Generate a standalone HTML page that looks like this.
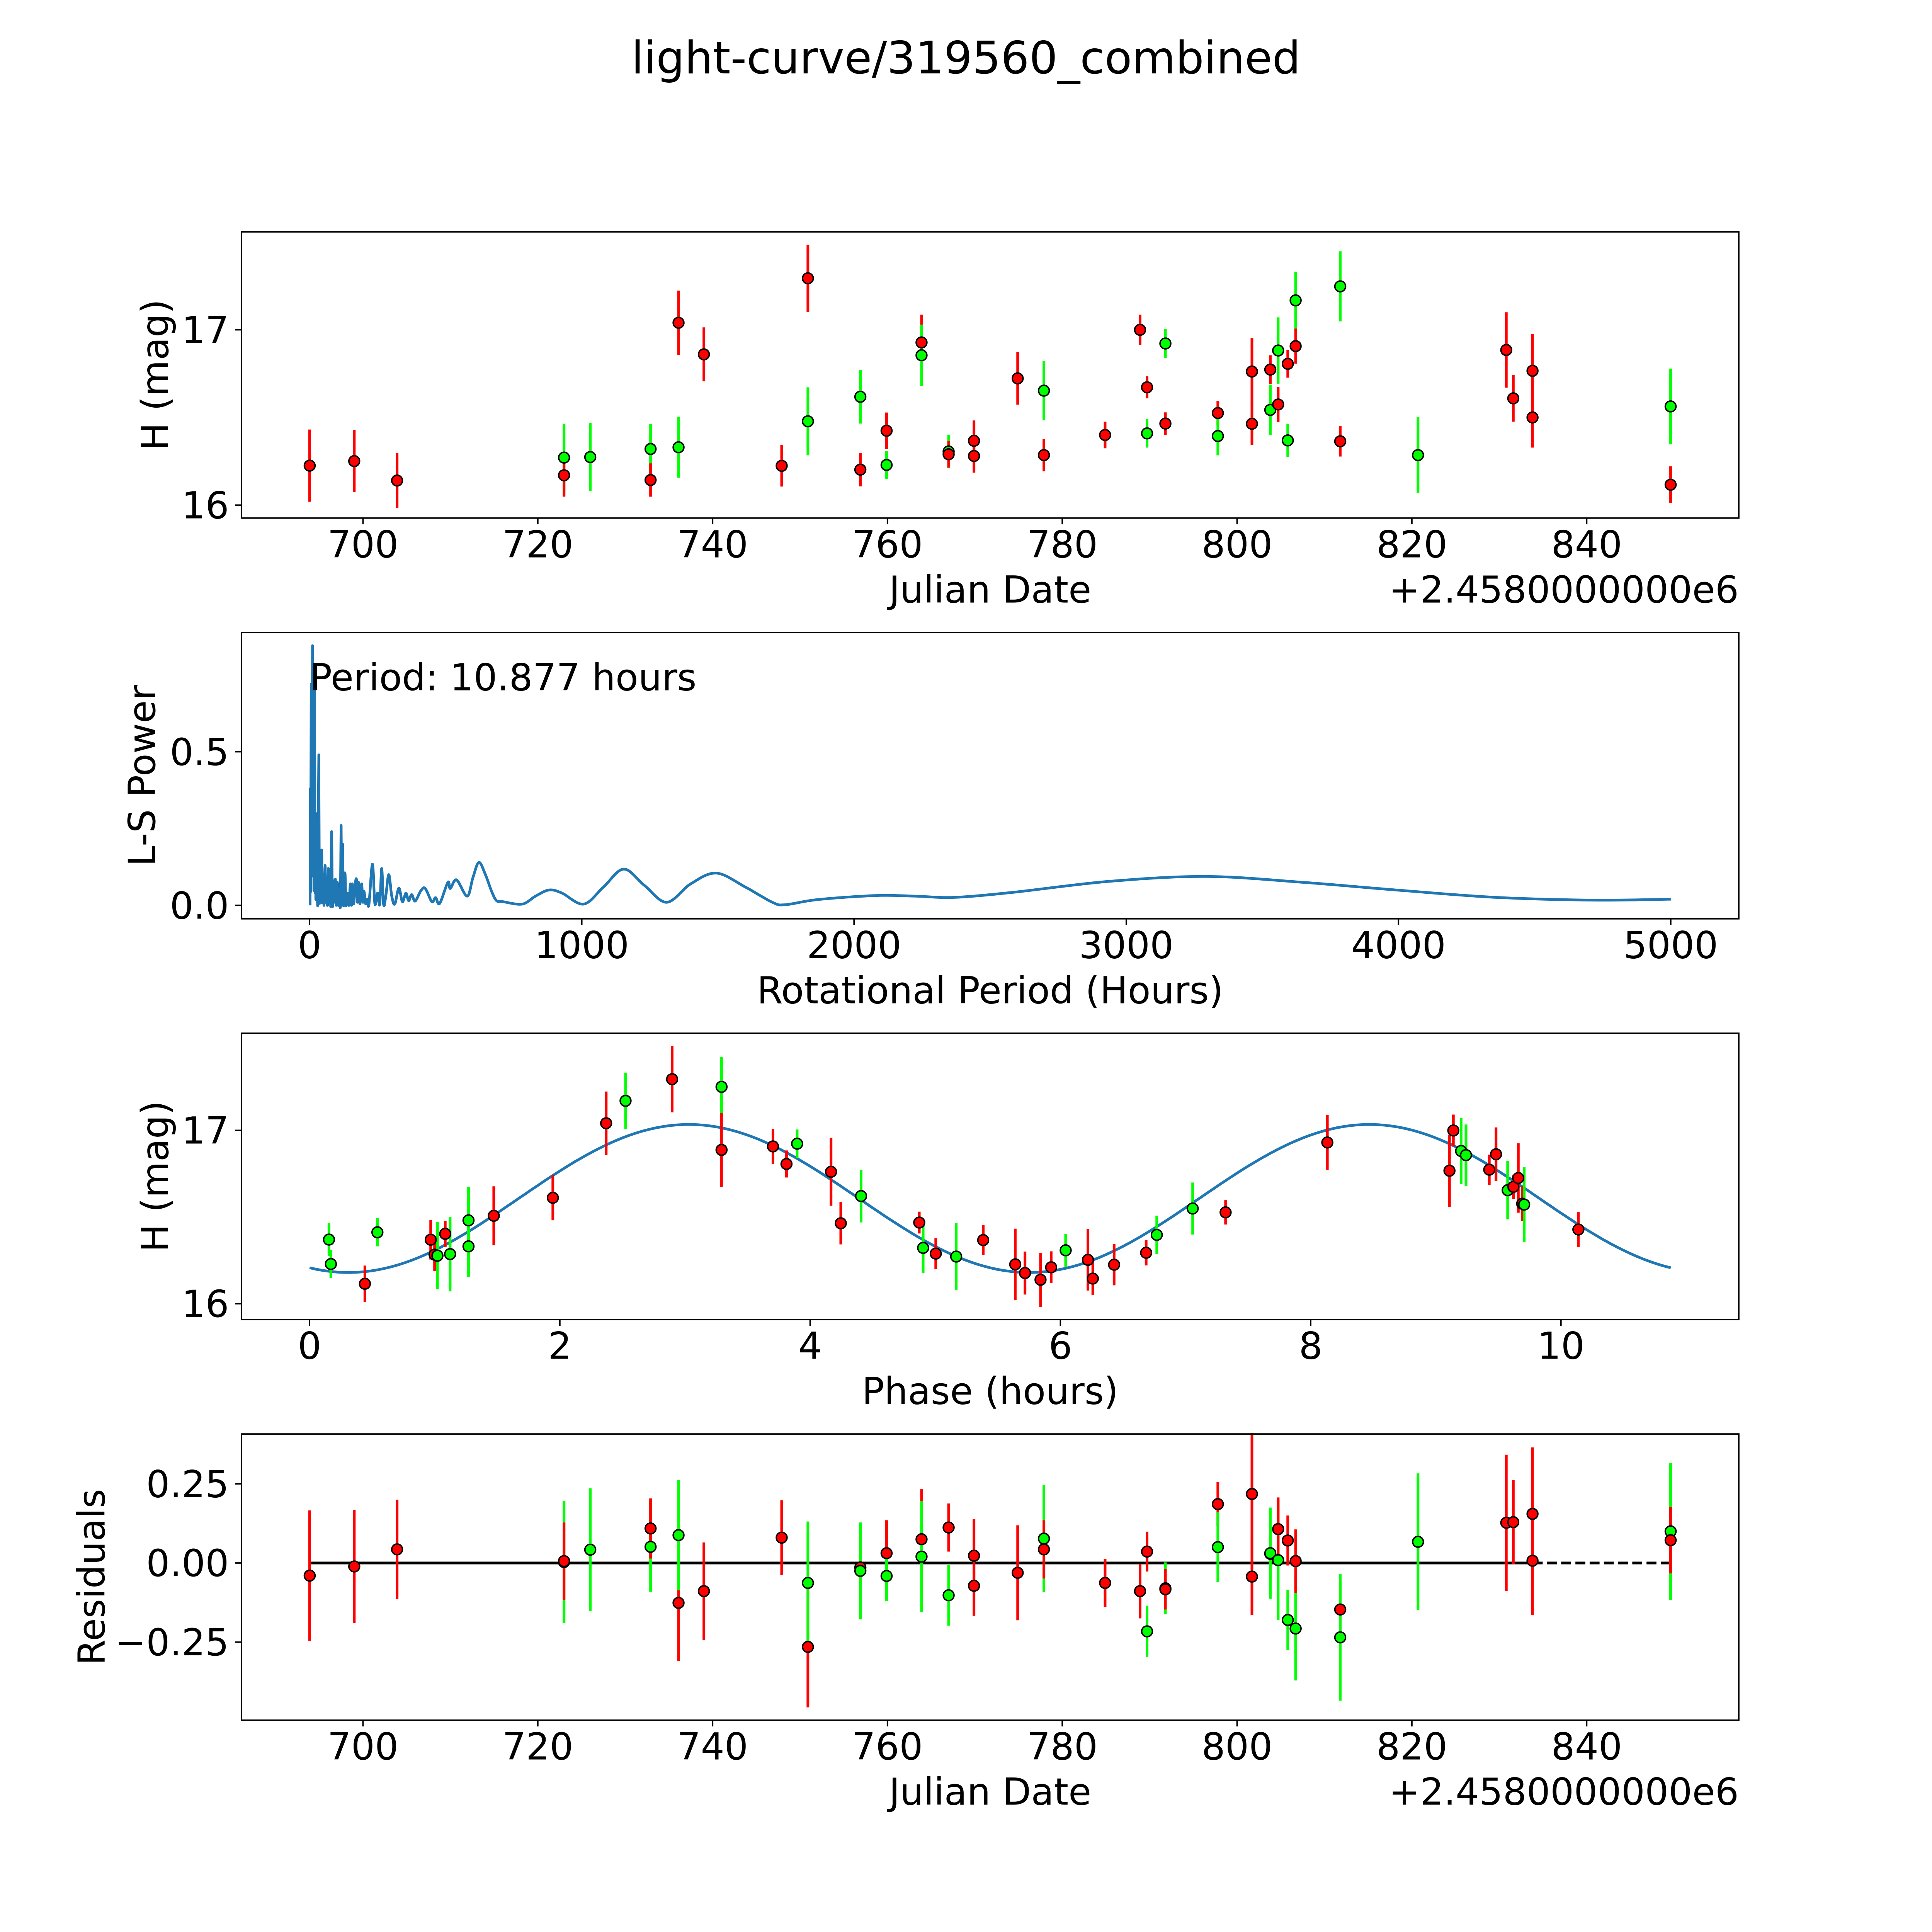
<!DOCTYPE html>
<html><head><meta charset="utf-8"><title>light-curve/319560_combined</title>
<style>html,body{margin:0;padding:0;background:#fff;overflow:hidden;width:100%;height:100%;}svg{display:block;width:100vw;height:100vh;}text{font-family:"DejaVu Sans","Liberation Sans",sans-serif;fill:#000;}</style>
</head><body>
<svg id="chart" xmlns="http://www.w3.org/2000/svg" viewBox="0 0 5400 5400" preserveAspectRatio="none">
<rect x="0" y="0" width="5400" height="5400" fill="#fff"/>
<text x="2700" y="205" font-size="125" text-anchor="middle">light-curve/319560_combined</text>
</svg>
<script>
// ---- Panel 1 / 4 data (observations) ----
const obsDates = [693.9,699.0,703.9,723.0,723.0,726.0,732.9,732.9,736.1,736.1,739.0,747.9,750.9,750.9,756.9,756.9,759.9,759.9,763.9,763.9,767.0,767.0,769.9,769.9,774.9,777.9,777.9,784.9,788.9,789.7,789.7,791.8,791.8,797.8,797.8,801.7,801.7,803.8,803.8,804.7,804.7,805.8,805.8,806.7,806.7,811.8,811.8,820.7,830.8,831.6,833.8,833.8,849.6,849.6];
const obsMags = [16.225,16.251,16.140,16.271,16.170,16.274,16.320,16.143,17.040,16.330,16.860,16.224,17.294,16.478,16.202,16.618,16.424,16.229,16.928,16.855,16.306,16.290,16.367,16.280,16.723,16.653,16.285,16.400,17.000,16.672,16.409,16.922,16.465,16.525,16.394,16.762,16.464,16.773,16.543,16.882,16.574,16.806,16.369,17.168,16.907,16.364,17.248,16.285,16.885,16.609,16.766,16.500,16.563,16.116];
const obsErrs = [0.206,0.178,0.157,0.193,0.122,0.194,0.142,0.095,0.184,0.174,0.154,0.118,0.191,0.194,0.095,0.153,0.104,0.080,0.158,0.175,0.096,0.076,0.116,0.095,0.150,0.169,0.092,0.076,0.086,0.063,0.081,0.082,0.064,0.069,0.110,0.192,0.122,0.082,0.144,0.189,0.100,0.079,0.095,0.164,0.100,0.087,0.200,0.216,0.215,0.133,0.210,0.172,0.216,0.105];
const obsBands = ["r","r","r","g","r","g","g","r","r","g","r","r","r","g","r","g","r","g","r","g","g","r","r","r","r","g","r","r","r","r","g","g","r","r","g","r","r","r","g","g","r","r","g","g","r","r","g","g","r","r","r","r","g","r"];
const residuals = [-0.040,-0.011,0.043,0.003,0.006,0.042,0.051,0.109,-0.126,0.088,-0.089,0.080,-0.265,-0.063,-0.014,-0.025,0.031,-0.041,0.075,0.020,-0.102,0.112,0.023,-0.072,-0.031,0.077,0.043,-0.063,-0.089,0.036,-0.216,-0.080,-0.083,0.186,0.050,0.218,-0.043,0.029,0.031,0.009,0.107,0.071,-0.180,-0.207,0.006,-0.147,-0.235,0.067,0.127,0.129,0.155,0.007,0.100,0.072];
// ---- Panel 3 data (phased) ----
const phases = [0.155,0.170,0.442,0.542,0.968,0.999,1.022,1.084,1.123,1.270,1.270,1.472,1.944,2.370,2.525,2.897,3.292,3.292,3.703,3.896,3.811,4.167,4.245,4.407,4.872,4.903,5.004,5.167,5.383,5.639,5.717,5.841,5.926,6.042,6.220,6.259,6.429,6.685,6.770,7.057,7.320,8.133,9.109,9.140,9.202,9.241,9.427,9.481,9.574,9.620,9.659,9.690,9.706,10.139];
const phaseMags = [16.370,16.229,16.115,16.412,16.369,16.283,16.277,16.403,16.286,16.331,16.481,16.507,16.611,17.041,17.170,17.295,17.251,16.887,16.907,16.923,16.806,16.761,16.464,16.621,16.468,16.322,16.289,16.272,16.367,16.227,16.177,16.138,16.210,16.308,16.253,16.145,16.225,16.294,16.397,16.549,16.527,16.930,16.767,16.999,16.881,16.857,16.773,16.862,16.655,16.674,16.725,16.577,16.572,16.428];
const phaseErrs = [0.095,0.082,0.105,0.081,0.114,0.095,0.193,0.075,0.215,0.177,0.194,0.170,0.130,0.183,0.163,0.191,0.173,0.213,0.100,0.082,0.078,0.196,0.122,0.152,0.063,0.145,0.089,0.193,0.086,0.206,0.124,0.156,0.092,0.095,0.177,0.096,0.119,0.073,0.111,0.150,0.070,0.158,0.208,0.092,0.191,0.177,0.087,0.155,0.168,0.070,0.200,0.100,0.216,0.100];
const phaseBands = ["g","g","r","g","r","r","g","r","g","g","g","r","r","r","g","r","g","r","r","g","r","r","r","g","r","g","r","g","r","r","r","r","r","g","r","r","r","r","g","g","r","r","r","r","g","g","r","r","g","r","r","r","g","r"];
// fit: mean, amplitude, peak phase, period (hours), harmonic
const fitParams = [16.607, 0.427, 3.03, 10.877, 2];
// ---- Panel 2 data (periodogram) ----
const lsPeriods = [2,3,4,6,7,8,9,10.9,12,14,16,18.8,20,22,23,24.6,26,28,30,34,36,40,42,44.5,47,50,53,57,60,63,66,69,72,76,78,81,84,88,90,95,98,102,106,110,113,116,118,121,125,130,134,140,145,150,154,157,162,167,172,176,180,185,191,196,200,206,212,218,231,240,250,258,265,272,280,291,302,313,328,341,354,364,375,388,409,425,449,463,478,508,517,540,579,600,622,646,669,687,710,781,830,880,927,1007,1080,1154,1230,1312,1400,1494,1600,1700,1747,1868,2082,2224,2367,2580,2936,3292,3648,4004,4359,4715,5000];
const lsPowers = [0,0.38,0.05,0.72,0.1,0.45,0.2,0.845,0.1,0.5,0.05,0.70,0.05,0.3,0.02,0.21,0.02,0.14,0.01,0.49,0.02,0.12,0.01,0.18,0.01,0.1,0.0,0.13,0.01,0.09,0.0,0.12,0.01,0.08,0.0,0.24,0.0,0.08,0.01,0.085,0.0,0.075,0.0,0.05,0.0,0.26,0.0,0.2,0.0,0.106,0.0,0.04,0.0,0.07,0.0,0.07,0.005,0.06,0.085,0.01,0.075,0.005,0.07,0.01,0.045,0.005,0.02,0.002,0.134,0.005,0.04,0.003,0.12,0.003,0.03,0.1,0.03,0.004,0.056,0.012,0.04,0.015,0.035,0.014,0.048,0.055,0.012,0.025,0.006,0.075,0.055,0.083,0.03,0.09,0.14,0.1,0.045,0.015,0.012,0.004,0.03,0.05,0.04,0.004,0.06,0.118,0.065,0.01,0.07,0.105,0.06,0.01,0.002,0.019,0.032,0.03,0.026,0.042,0.078,0.094,0.075,0.049,0.026,0.017,0.02];
const periodText = "Period: 10.877 hours";
const jdTicks = [700,720,740,760,780,800,820,840];
const magTicks = [16,17];
const powTicks = [0.0,0.5];
const powTickLabels = ["0.0","0.5"];
const perTicks = [0,1000,2000,3000,4000,5000];
const phaseTicks = [0,2,4,6,8,10];
const resTicks = [-0.25,0,0.25];
const resTickLabels = ["\u22120.25","0.00","0.25"];

const NS = "http://www.w3.org/2000/svg";
const svg = document.getElementById('chart');
const COLORS = {r:"#ff0000", g:"#00ff00"};
const FS = 104;
function mk(tag, parent, attrs){const e=document.createElementNS(NS,tag);for(const k in attrs)e.setAttribute(k,attrs[k]);parent.appendChild(e);return e;}

function makeAxes(name, box, dom, xt, xtl, yt, ytl, xlabel, ylabel, ylabelX, offsetText){
  const g = mk('g', svg, {});
  
  
  const sx = v => box.x0 + (v - dom.xmin) / (dom.xmax - dom.xmin) * (box.x1 - box.x0);
  const sy = v => box.y1 - (v - dom.ymin) / (dom.ymax - dom.ymin) * (box.y1 - box.y0);
  const plot = mk('g', g, {});
  
  
  const frame = mk('rect', g, {x:box.x0, y:box.y0, width:box.x1-box.x0, height:box.y1-box.y0, fill:'none', stroke:'#000', 'stroke-width':4});
  
  
  xt.forEach((v,i)=>{
    const x = sx(v);
    const t = mk('line', g, {x1:x, x2:x, y1:box.y1, y2:box.y1+17.5, stroke:'#000','stroke-width':4});
    
    
    const tl = mk('text', g, {x:x, y:box.y1+110, 'font-size':FS, 'text-anchor':'middle'});
    tl.textContent = xtl[i];
    
    
  });
  yt.forEach((v,i)=>{
    const y = sy(v);
    const t = mk('line', g, {x1:box.x0-17.5, x2:box.x0, y1:y, y2:y, stroke:'#000','stroke-width':4});
    
    
    const tl = mk('text', g, {x:box.x0-35, y:y+37, 'font-size':FS, 'text-anchor':'end'});
    tl.textContent = ytl[i];
    
    
  });
  const xl = mk('text', g, {x:(box.x0+box.x1)/2, y:box.y1+236, 'font-size':FS, 'text-anchor':'middle'});
  xl.textContent = xlabel;
  
  
  const cy = (box.y0+box.y1)/2;
  const yl = mk('text', g, {x:ylabelX, y:cy, 'font-size':FS, 'text-anchor':'middle', transform:'rotate(-90 '+ylabelX+' '+cy+')'});
  yl.textContent = ylabel;
  
  
  if (offsetText){
    const ot = mk('text', g, {x:box.x1, y:box.y1+236, 'font-size':FS, 'text-anchor':'end'});
    ot.textContent = offsetText;
    
    
  }
  return {g:plot, sx, sy};
}

function drawPoints(ax, xs, ys, es, bands, prefix){
  xs.forEach((x,i)=>{
    const eb = mk('line', ax.g, {x1:ax.sx(x), x2:ax.sx(x), y1:ax.sy(ys[i]-es[i]), y2:ax.sy(ys[i]+es[i]), stroke:COLORS[bands[i]], 'stroke-width':7.5});
    
    
  });
  xs.forEach((x,i)=>{
    const c = mk('circle', ax.g, {cx:ax.sx(x), cy:ax.sy(ys[i]), r:15, fill:COLORS[bands[i]], stroke:'#000', 'stroke-width':4});
    
    
  });
}

function smoothPath(pts){
  let d = 'M' + pts[0][0].toFixed(1) + ' ' + pts[0][1].toFixed(1);
  for (let i=0;i<pts.length-1;i++){
    const p0 = pts[Math.max(0,i-1)], p1 = pts[i], p2 = pts[i+1], p3 = pts[Math.min(pts.length-1,i+2)];
    const c1 = [p1[0]+(p2[0]-p0[0])/6, p1[1]+(p2[1]-p0[1])/6];
    const c2 = [p2[0]-(p3[0]-p1[0])/6, p2[1]-(p3[1]-p1[1])/6];
    d += ' C'+c1[0].toFixed(1)+' '+c1[1].toFixed(1)+' '+c2[0].toFixed(1)+' '+c2[1].toFixed(1)+' '+p2[0].toFixed(1)+' '+p2[1].toFixed(1);
  }
  return d;
}

// Panel 1
const ax1 = makeAxes('light-curve-panel', {x0:675,x1:4860,y0:648,y1:1448}, {xmin:686.1,xmax:857.4,ymin:15.926,ymax:17.559},
  jdTicks, jdTicks.map(String), magTicks, magTicks.map(String), 'Julian Date', 'H (mag)', 470, '+2.4580000000e6');
drawPoints(ax1, obsDates, obsMags, obsErrs, obsBands, 'observation');

// Panel 2
const ax2 = makeAxes('periodogram-panel', {x0:675,x1:4860,y0:1768,y1:2568}, {xmin:-250,xmax:5250,ymin:-0.0437,ymax:0.888},
  perTicks, perTicks.map(String), powTicks, powTickLabels, 'Rotational Period (Hours)', 'L-S Power', 433, null);
const lsPts = lsPeriods.map((p,i)=>[ax2.sx(p), ax2.sy(lsPowers[i])]);
const lsLine = mk('path', ax2.g, {d:smoothPath(lsPts), fill:'none', stroke:'#1f77b4', 'stroke-width':7.5, 'stroke-linejoin':'round'});


const pt = mk('text', ax2.g, {x:ax2.sx(0), y:ax2.sy(0.7), 'font-size':FS, 'text-anchor':'start'});
pt.textContent = periodText;



// Panel 3
const ax3 = makeAxes('phased-curve-panel', {x0:675,x1:4860,y0:2888,y1:3688}, {xmin:-0.544,xmax:11.421,ymin:15.909,ymax:17.560},
  phaseTicks, phaseTicks.map(String), magTicks, magTicks.map(String), 'Phase (hours)', 'H (mag)', 470, null);
const fitPts = [];
for (let k=0;k<=200;k++){
  const ph = fitParams[3]*k/200;
  const m = fitParams[0] + fitParams[1]*Math.cos(2*Math.PI*fitParams[4]*(ph-fitParams[2])/fitParams[3]);
  fitPts.push(ax3.sx(ph).toFixed(1)+','+ax3.sy(m).toFixed(1));
}
const fit = mk('polyline', ax3.g, {points:fitPts.join(' '), fill:'none', stroke:'#1f77b4', 'stroke-width':7.5});


drawPoints(ax3, phases, phaseMags, phaseErrs, phaseBands, 'phased-observation');

// Panel 4
const ax4 = makeAxes('residuals-panel', {x0:675,x1:4860,y0:4008,y1:4808}, {xmin:686.1,xmax:857.4,ymin:-0.4966,ymax:0.4075},
  jdTicks, jdTicks.map(String), resTicks, resTickLabels, 'Julian Date', 'Residuals', 292, '+2.4580000000e6');
const dMin = Math.min(...obsDates), dMax = Math.max(...obsDates);
const dash = mk('line', ax4.g, {x1:ax4.sx(dMin), x2:ax4.sx(dMax), y1:ax4.sy(0), y2:ax4.sy(0), stroke:'#000', 'stroke-width':7.5, 'stroke-dasharray':'27.75 12'});


const solid = mk('line', ax4.g, {x1:ax4.sx(dMin), x2:ax4.sx(834.8), y1:ax4.sy(0), y2:ax4.sy(0), stroke:'#000', 'stroke-width':7.5});


drawPoints(ax4, obsDates, residuals, obsErrs, obsBands, 'residual');
</script>
</body></html>
